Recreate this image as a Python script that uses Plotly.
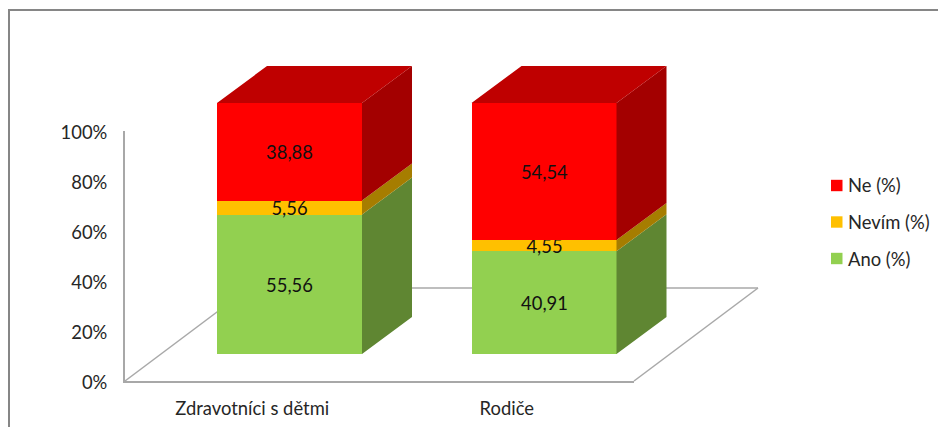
import plotly.graph_objects as go

# Survey answers per group, in percent
categories = ["Zdravotníci s dětmi", "Rodiče"]
ano = [55.56, 40.91]
nevim = [5.56, 4.55]
ne = [38.88, 54.54]
y_ticks = [0, 20, 40, 60, 80, 100]
legend_names = ["Ne (%)", "Nevím (%)", "Ano (%)"]

W, H = 938, 427
FONT = "Lato"
TEXT = "#262626"
GRID = "#A8A8A8"
FS = 18.4

# Oblique projection of the stacked columns, in pixels of the page
FRONT_ZERO_Y, FRONT_FULL_Y = 354, 103      # column front plane
FRONT_FIRST_X, CAT_STEP = 289.5, 254.5     # centre of the first column, column spacing
BAR_PX = 145
DEPTH_PX = (50, 37)                        # column depth
AXIS_LEFT, AXIS_RIGHT = 125, 634           # front floor edge
AXIS_ZERO_Y, AXIS_FULL_Y = 381, 131
LABEL_DROP = 2                             # percent labels sit slightly below their level
FLOOR_DEPTH_PX = (124, 93)

y_unit = (FRONT_ZERO_Y - FRONT_FULL_Y) / 100
dx = DEPTH_PX[0] / CAT_STEP
dy = DEPTH_PX[1] / y_unit
half = BAR_PX / CAT_STEP / 2


def px_x(p):
    return (p - FRONT_FIRST_X) / CAT_STEP


def px_y(p):
    return (FRONT_ZERO_Y - p) / y_unit


series = [
    ("Ano (%)", ano, "#92D050", "#5F8632"),
    ("Nevím (%)", nevim, "#FFC000", "#A67D00"),
    ("Ne (%)", ne, "#FF0000", "#A30000"),
]
idx = list(range(len(categories)))

fig = go.Figure()

# Front faces as a true stacked bar chart
for name, vals, col, _ in series:
    fig.add_trace(go.Bar(
        x=idx, y=vals, name=name, width=2 * half,
        marker=dict(color=col, line=dict(width=0)),
        text=[f"{v:.2f}".replace(".", ",") for v in vals],
        textposition="inside", insidetextanchor="middle", textangle=0,
        constraintext="none", cliponaxis=False,
        insidetextfont=dict(family=FONT, size=FS, color="#111111"),
        showlegend=False, hoverinfo="skip",
    ))

# Side faces follow the same stacked totals
base = [0.0] * len(categories)
for name, vals, _, side in series:
    xs, ys = [], []
    for i, v in enumerate(vals):
        b, t = base[i], base[i] + v
        r = i + half
        xs += [r, r + dx, r + dx, r, r, None]
        ys += [b, b + dy, t + dy, t, b, None]
        base[i] = t
    fig.add_trace(go.Scatter(
        x=xs, y=ys, mode="lines", fill="toself", fillcolor=side,
        line=dict(width=0, color=side), showlegend=False, hoverinfo="skip",
    ))

# Top faces
xs, ys = [], []
for i in idx:
    l, r = i - half, i + half
    xs += [l, r, r + dx, l + dx, l, None]
    ys += [base[i], base[i], base[i] + dy, base[i] + dy, base[i], None]
fig.add_trace(go.Scatter(
    x=xs, y=ys, mode="lines", fill="toself", fillcolor="#BF0000",
    line=dict(width=0, color="#BF0000"), showlegend=False, hoverinfo="skip",
))

# Carriers for the visible category and percent axes
for yref in ("y2", "y3"):
    fig.add_trace(go.Scatter(
        x=idx, y=[0] * len(idx), xaxis="x2", yaxis=yref, mode="lines",
        line=dict(width=0), showlegend=False, hoverinfo="skip",
    ))

shapes = []
# Floor outline, behind the columns
fx0, fy0 = AXIS_LEFT, AXIS_ZERO_Y
fx1 = AXIS_RIGHT
bx, by = FLOOR_DEPTH_PX
for (a, b, c, d) in [
    (fx0, fy0, fx0 + bx, fy0 - by),
    (fx0 + bx, fy0 - by, fx1 + bx, fy0 - by),
    (fx1 + bx, fy0 - by, fx1, fy0),
]:
    shapes.append(dict(
        type="line", xref="x", yref="y", layer="below",
        x0=px_x(a), y0=px_y(b), x1=px_x(c), y1=px_y(d),
        line=dict(color=GRID, width=1.5),
    ))

# Outer chart frame: left and top edges
FRAME = "#868686"
shapes.append(dict(type="line", xref="paper", yref="paper", x0=9 / W, x1=9 / W,
                   y0=0, y1=1 - 10 / H, line=dict(color=FRAME, width=2)))
shapes.append(dict(type="line", xref="paper", yref="paper", x0=8 / W, x1=1,
                   y0=1 - 10 / H, y1=1 - 10 / H, line=dict(color=FRAME, width=2)))

# Legend keys and labels
annotations = []
LEG_Y = [185.5, 222, 258.5]
for name, (sname, _, col, _), ly in zip(legend_names, series[::-1], LEG_Y):
    shapes.append(dict(type="rect", xref="paper", yref="paper", layer="above",
                       x0=831 / W, x1=842.5 / W, y0=1 - (ly - 5.7) / H, y1=1 - (ly + 5.7) / H,
                       fillcolor=col, line=dict(width=0)))
    annotations.append(dict(xref="paper", yref="paper", x=846 / W, y=1 - ly / H,
                            text=name, showarrow=False, xanchor="left", yanchor="middle",
                            font=dict(family=FONT, size=FS, color=TEXT)))

fig.update_layout(
    width=W, height=H, autosize=False,
    margin=dict(l=0, r=0, t=0, b=0, pad=0),
    paper_bgcolor="white", plot_bgcolor="rgba(0,0,0,0)",
    barmode="stack", bargap=0, showlegend=False, uniformtext=dict(mode=False),
    font=dict(family=FONT, size=FS, color=TEXT),
    shapes=shapes, annotations=annotations,
    xaxis=dict(domain=[0, 1], range=[px_x(0), px_x(W)], visible=False, fixedrange=True,
               automargin=False),
    yaxis=dict(domain=[0, 1], range=[px_y(H), px_y(0)], visible=False, fixedrange=True,
               automargin=False),
    xaxis2=dict(
        domain=[AXIS_LEFT / W, AXIS_RIGHT / W], range=[-0.5, 1.5], anchor="y2",
        tickmode="array", tickvals=idx, ticktext=categories, automargin=False,
        showline=True, linecolor=GRID, linewidth=1.5, showgrid=False, zeroline=False,
        ticks="outside", ticklen=10, tickcolor="rgba(0,0,0,0)",
        tickfont=dict(family=FONT, size=FS, color=TEXT), fixedrange=True,
    ),
    # Axis line on its true span
    yaxis2=dict(
        domain=[1 - AXIS_ZERO_Y / H, 1 - AXIS_FULL_Y / H], range=[0, 100], anchor="x2",
        showticklabels=False, ticks="", automargin=False,
        showline=True, linecolor=GRID, linewidth=1.5, showgrid=False, zeroline=False,
        fixedrange=True,
    ),
    # Percent labels
    yaxis3=dict(
        domain=[1 - (AXIS_ZERO_Y + LABEL_DROP) / H, 1 - (AXIS_FULL_Y + LABEL_DROP) / H],
        range=[0, 100], anchor="x2",
        tickmode="array", tickvals=y_ticks, ticktext=[f"{t}%" for t in y_ticks],
        automargin=False, showline=False, showgrid=False, zeroline=False,
        ticks="outside", ticklen=13, tickcolor="rgba(0,0,0,0)",
        tickfont=dict(family=FONT, size=FS, color=TEXT), fixedrange=True,
    ),
)

fig.write_html("out.html", config=dict(displayModeBar=False))
